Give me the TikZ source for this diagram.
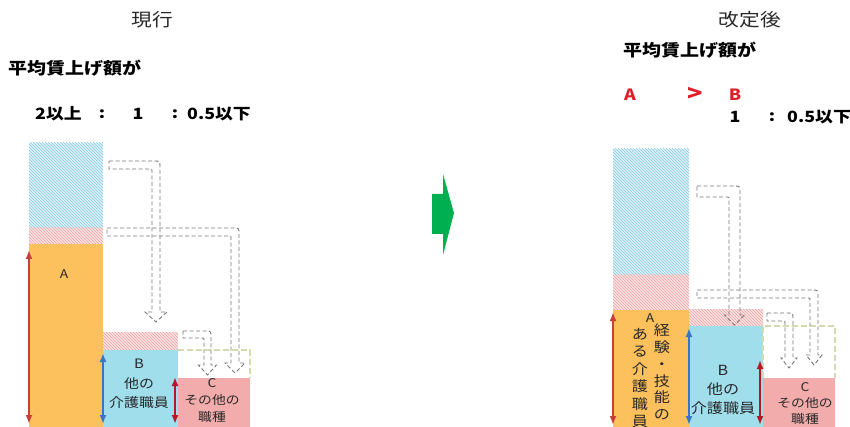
\documentclass[tikz,border=0pt]{standalone}
\usepackage{fontspec}
\setmainfont{Noto Sans CJK JP}[FakeStretch=1.15]
\usetikzlibrary{arrows.meta,patterns}
\definecolor{barorange}{RGB}{252,192,92}
\definecolor{barblue}{RGB}{160,222,236}
\definecolor{barpink}{RGB}{242,172,172}
\definecolor{hatchbase}{RGB}{222,242,247}
\definecolor{hatchblue}{RGB}{130,200,222}
\definecolor{pinkbase}{RGB}{250,228,228}
\definecolor{hatchpink}{RGB}{236,160,160}
\definecolor{arrowred}{RGB}{196,64,56}
\definecolor{arrowdark}{RGB}{180,24,40}
\definecolor{arrowblue}{RGB}{56,116,200}
\definecolor{flowgray}{RGB}{120,120,120}
\definecolor{targetolive}{RGB}{214,218,176}
\definecolor{shiftgreen}{RGB}{0,176,80}
\definecolor{ratiored}{RGB}{222,30,40}
\definecolor{textgray}{RGB}{40,40,40}

% hollow dashed bent arrow: start x, top y, outer x, band, tip y, head half width
\newcommand{\movearrow}[6]{%
  \draw[flowline] (#1,#2) -- ({#3-6},#2) .. controls (#3,#2) .. (#3,{#2+6})
    -- (#3,{#5-10}) -- ({#3-#4/2+#6},{#5-10}) -- ({#3-#4/2},#5)
    -- ({#3-#4/2-#6},{#5-10}) -- ({#3-#4},{#5-10}) -- ({#3-#4},{#2+#4+2})
    .. controls ({#3-#4},{#2+#4}) .. ({#3-#4-2},{#2+#4}) -- (#1,{#2+#4}) -- cycle;}

\begin{document}
\begin{tikzpicture}[x=1pt, y=-1pt]

\tikzstyle{hatchedblue} = [fill=hatchbase, postaction={pattern=north west lines, pattern color=hatchblue}];
\tikzstyle{hatchedpink} = [fill=pinkbase, postaction={pattern=north west lines, pattern color=hatchpink}];
\tikzstyle{target} = [draw=targetolive, line width=2.5pt, dash pattern=on 6pt off 3pt];
\tikzstyle{flowline} = [draw=flowgray, line width=0.9pt, dash pattern=on 4pt off 2.5pt];
\tikzstyle{spanarrow} = [<->, >={Latex[length=9pt,width=7pt]}, line width=2pt];
\tikzstyle{title} = [inner sep=0pt, text=textgray, font=\fontsize{18}{20}\selectfont];
\tikzstyle{ratio} = [inner sep=0pt, font=\bfseries\fontsize{15.5}{18}\selectfont];
\tikzstyle{boxtext} = [inner sep=0pt, align=center, text=textgray];

\useasboundingbox (0,0) rectangle (850,427);

% Headings
\node (titleNow) [title] at (152,20) {現行};
\node (titleNew) [title] at (750,20) {改定後};
\node (avgNow) [ratio, anchor=west, font=\bfseries\fontsize{16.5}{18}\selectfont] at (8,68) {平均賃上げ額が};
\node (avgNew) [ratio, anchor=west, font=\bfseries\fontsize{16.5}{18}\selectfont] at (623,50) {平均賃上げ額が};

% Ratios
\node (rA) [ratio, anchor=west] at (35,114) {2以上};
\node (c1) [ratio] at (102,114) {:};
\node (rB) [ratio] at (138,114) {1};
\node (c2) [ratio] at (175,114) {:};
\node (rC) [ratio, anchor=west] at (187,114) {0.5以下};
\node (newA) [ratio, text=ratiored] at (630,95) {A};
\node (gt) [ratio, text=ratiored, font=\bfseries\fontsize{22}{22}\selectfont] at (695,94) {>};
\node (newB) [ratio, text=ratiored] at (735,95) {B};
\node (nB) [ratio] at (735,117) {1};
\node (c3) [ratio] at (772,117) {:};
\node (nC) [ratio, anchor=west] at (787,117) {0.5以下};

% Bars - current
\path[hatchedblue] (29,143) rectangle (103,228);
\path[hatchedpink] (29,228) rectangle (103,244);
\fill[barorange] (29,244) rectangle (103,427);
\path[hatchedpink] (103,332) rectangle (178,350);
\fill[barblue] (103,350) rectangle (178,427);
\fill[barpink] (178,378) rectangle (250,427);
\draw[target] (178,350) -- (250,350) -- (250,378);

% Bars - revised
\path[hatchedblue] (613,149) rectangle (689,275);
\path[hatchedpink] (613,275) rectangle (689,310);
\fill[barorange] (613,310) rectangle (689,427);
\path[hatchedpink] (689,309) rectangle (763,326);
\fill[barblue] (689,326) rectangle (763,427);
\fill[barpink] (763,378) rectangle (835,427);
\draw[target] (763,378) -- (763,326) -- (835,326) -- (835,378);

% Shifts
\movearrow{109}{161}{160}{8}{322}{11}
\movearrow{107}{228}{239}{8}{373}{10}
\movearrow{183}{331}{211}{7}{375}{9}
\movearrow{697}{186}{740}{11}{325}{10}
\movearrow{697}{290}{818}{8}{365}{8}
\movearrow{767}{313}{793}{8}{368}{8}

% Spans
\draw[spanarrow, arrowred] (29,250) -- (29,424);
\draw[spanarrow, arrowblue] (103,353) -- (103,424);
\draw[spanarrow, arrowdark] (175,377) -- (175,424);
\draw[spanarrow, arrowred] (613,312) -- (613,425);
\draw[spanarrow, arrowblue] (689,328) -- (689,425);
\draw[spanarrow, arrowdark] (760,360) -- (760,425);

% Labels
\node (labA) [boxtext, font=\fontsize{12}{13}\selectfont] at (64,274) {A};
\node (labB) [boxtext, font=\fontsize{13}{19.5}\selectfont] at (139,384) {B\\他の\\介護職員};
\node (labC) [boxtext, font=\fontsize{12}{17}\selectfont] at (212,401) {C\\その他の\\職種};
\node (newLabA) [boxtext, font=\fontsize{12}{14}\selectfont] at (650,318) {A};
\node (colOne) [boxtext, font=\fontsize{14}{16.8}\selectfont] at (662,372) {経\\験\\・\\技\\能\\の};
\node (colTwo) [boxtext, font=\fontsize{14}{17.5}\selectfont] at (640,378) {あ\\る\\介\\護\\職\\員};
\node (newLabB) [boxtext, font=\fontsize{14}{19}\selectfont] at (723,390) {B\\他の\\介護職員};
\node (newLabC) [boxtext, font=\fontsize{12}{16}\selectfont] at (805,404) {C\\その他の\\職種};

% Change
\fill[shiftgreen] (432,194) -- (443,194) -- (443,174) -- (454,213) -- (443,255) -- (443,234) -- (432,234) -- cycle;

\end{tikzpicture}
\end{document}
